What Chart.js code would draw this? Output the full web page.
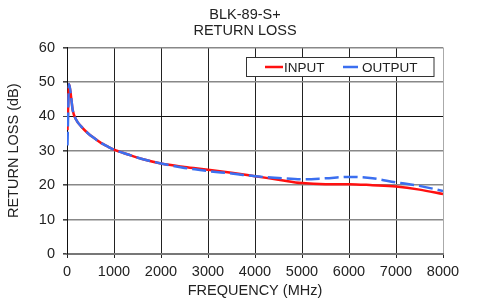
<!DOCTYPE html>
<html>
<head>
<meta charset="utf-8">
<script src="https://cdn.jsdelivr.net/npm/chart.js@4.4.0/dist/chart.umd.min.js"></script>
<style>
  html, body { margin: 0; padding: 0; background: #fff; }
  #wrap { width: 477px; height: 301px; position: relative; }
</style>
</head>
<body>
<div id="wrap"><canvas id="rlChart" width="477" height="301"></canvas></div>
<script>
// data
const chartTitle = ['BLK-89-S+', 'RETURN LOSS'];
const xTitle = 'FREQUENCY (MHz)';
const yTitle = 'RETURN LOSS (dB)';
const seriesNames = ['INPUT', 'OUTPUT'];

const freqs = [10, 45, 90, 120, 195, 300, 445, 585, 730, 870, 1000, 1300, 1600, 2000, 2500, 3000, 3500, 4000, 4500, 5000, 5500, 6000, 6500, 7000, 7500, 8000];
const inputLoss = [36, 49.4, 45.3, 41.9, 39.0, 37.1, 35.1, 33.6, 32.2, 31.2, 30.3, 28.9, 27.6, 26.3, 25.3, 24.5, 23.6, 22.6, 21.6, 20.6, 20.3, 20.3, 20.0, 19.6, 18.7, 17.4];
const outputLoss = [31.5, 49.4, 45.3, 41.9, 39.0, 37.1, 35.1, 33.6, 32.2, 31.2, 30.3, 28.9, 27.6, 26.3, 25.0, 24.1, 23.4, 22.6, 22.1, 21.7, 22.0, 22.4, 22.0, 20.8, 19.8, 18.3];

const xTicks = [0, 1000, 2000, 3000, 4000, 5000, 6000, 7000, 8000];
const yTicks = [0, 10, 20, 30, 40, 50, 60];

const FONT = '"Liberation Sans", Arial, sans-serif';

function toPoints(xs, ys) {
    return xs.map((x, i) => ({ x: x, y: ys[i] }));
}

// title and boxed legend drawn by hand to match the original layout
const decorPlugin = {
    id: 'decor',
    afterDraw(chart) {
        const ctx = chart.ctx;
        ctx.save();
        ctx.fillStyle = '#222';
        ctx.font = '14.5px ' + FONT;
        ctx.textAlign = 'center';
        ctx.textBaseline = 'alphabetic';
        ctx.fillText(chartTitle[0], 245, 18.5);
        ctx.fillText(chartTitle[1], 245, 35);

        // legend box
        const bx = 246.5, by = 57.5, bw = 187.5, bh = 19;
        ctx.fillStyle = '#fff';
        ctx.fillRect(bx, by, bw, bh);
        ctx.strokeStyle = '#333';
        ctx.lineWidth = 1;
        ctx.strokeRect(bx, by, bw, bh);

        const items = [
            { x1: 265, x2: 283, tx: 284 },
            { x1: 343, x2: 358, tx: 362 }
        ];
        ctx.font = '13.5px ' + FONT;
        ctx.textAlign = 'left';
        chart.data.datasets.forEach((ds, i) => {
            const it = items[i];
            ctx.strokeStyle = ds.borderColor;
            ctx.lineWidth = 2.5;
            ctx.beginPath();
            ctx.moveTo(it.x1, 67);
            ctx.lineTo(it.x2, 67);
            ctx.stroke();
            ctx.fillStyle = '#222';
            ctx.fillText(ds.label, it.tx, 72);
        });
        ctx.restore();
    }
};

const ctx = document.getElementById('rlChart').getContext('2d');
new Chart(ctx, {
    type: 'line',
    data: {
        datasets: [
            {
                label: seriesNames[0],
                data: toPoints(freqs, inputLoss),
                borderColor: '#ff1010',
                borderWidth: 2.5,
                pointRadius: 0,
                cubicInterpolationMode: 'monotone',
                order: 1
            },
            {
                label: seriesNames[1],
                data: toPoints(freqs, outputLoss),
                borderColor: '#3b6ff0',
                borderWidth: 2.5,
                borderDash: [14, 5],
                pointRadius: 0,
                cubicInterpolationMode: 'monotone',
                order: 0
            }
        ]
    },
    options: {
        responsive: false,
        animation: false,
        devicePixelRatio: 1,
        layout: { padding: { top: 47.5, right: 34, left: 0, bottom: 0 } },
        plugins: {
            legend: { display: false },
            title: { display: false },
            tooltip: { enabled: false }
        },
        scales: {
            x: {
                type: 'linear',
                min: 0,
                max: 8000,
                afterBuildTicks: scale => { scale.ticks = xTicks.map(v => ({ value: v })); },
                afterFit: scale => { scale.height = 47; },
                ticks: {
                    color: '#222',
                    font: { family: FONT, size: 14.5 },
                    padding: 5,
                    maxRotation: 0,
                    callback: v => String(v)
                },
                grid: {
                    color: c => (c.tick && c.tick.value === 8000) ? '#aaa' : '#222',
                    lineWidth: 1,
                    tickLength: 4,
                    tickColor: '#222'
                },
                border: { display: true, color: '#777', width: 2 },
                title: { display: true, text: xTitle, color: '#222', font: { family: FONT, size: 14.5 }, padding: { top: 0, bottom: 1 } }
            },
            y: {
                min: 0,
                max: 60,
                afterBuildTicks: scale => { scale.ticks = yTicks.map(v => ({ value: v })); },
                afterFit: scale => { scale.width = 67; },
                ticks: { color: '#222', font: { family: FONT, size: 14.5 }, padding: 8 },
                grid: {
                    color: c => (c.tick && c.tick.value === 40) ? '#111' : '#888',
                    lineWidth: c => (c.tick && c.tick.value === 40) ? 1 : 1.6,
                    tickLength: 4,
                    tickColor: '#444'
                },
                border: { display: true, color: '#111', width: 1 },
                title: { display: true, text: yTitle, color: '#222', font: { family: FONT, size: 14.5 }, padding: { top: 5, bottom: 0 } }
            }
        }
    },
    plugins: [decorPlugin]
});
</script>
</body>
</html>
